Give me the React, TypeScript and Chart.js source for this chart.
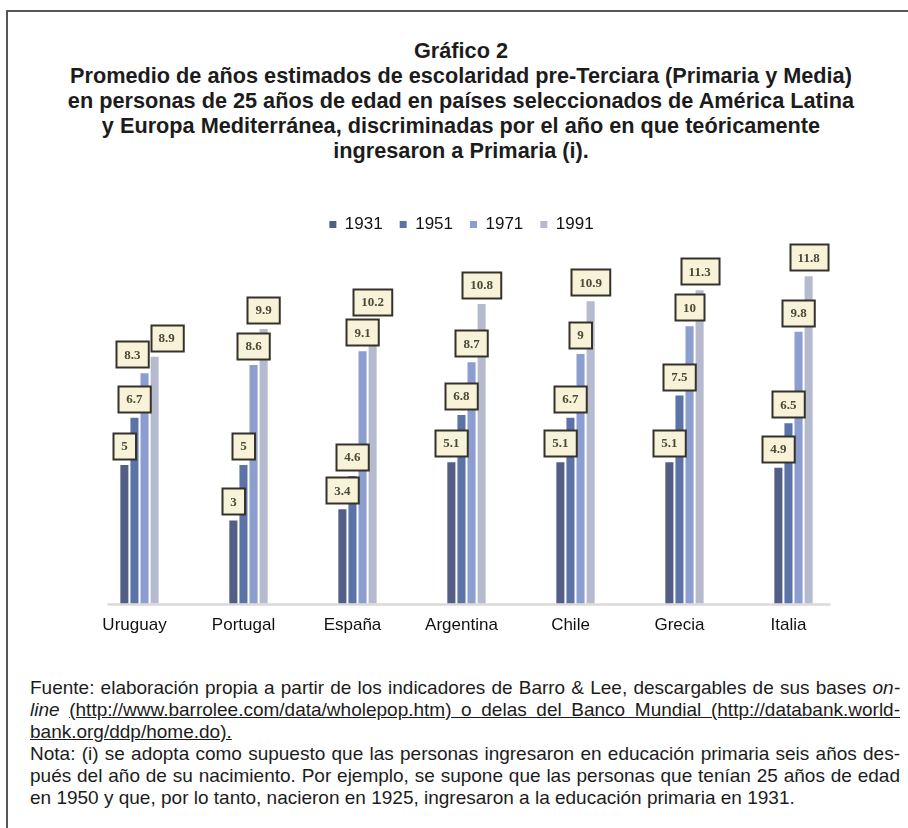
import React, { useEffect, useRef } from "react";
import { Chart, registerables } from "chart.js";

Chart.register(...registerables);

const countries = ["Uruguay", "Portugal", "España", "Argentina", "Chile", "Grecia", "Italia"];
const seriesNames = ["1931", "1951", "1971", "1991"];
const v1931 = [5, 3, 3.4, 5.1, 5.1, 5.1, 4.9];
const v1951 = [6.7, 5, 4.6, 6.8, 6.7, 7.5, 6.5];
const v1971 = [8.3, 8.6, 9.1, 8.7, 9, 10, 9.8];
const v1991 = [8.9, 9.9, 10.2, 10.8, 10.9, 11.3, 11.8];
const seriesColors = ["#525e86", "#5c73a8", "#8c9dcf", "#b6bace"];

const labelPlugin = {
  id: "valueBoxes",
  beforeDatasetsDraw(chart: any) {
    const { ctx } = chart;
    const xs = chart.scales.x;
    const ys = chart.scales.y;
    const y0 = ys.getPixelForValue(0);
    ctx.save();
    ctx.strokeStyle = "#dcd8d8";
    ctx.lineWidth = 2.5;
    ctx.beginPath();
    ctx.moveTo(xs.getPixelForValue(0) - 32, y0 + 1);
    ctx.lineTo(xs.getPixelForValue(countries.length - 1) + 37, y0 + 1);
    ctx.stroke();
    ctx.restore();
  },
  afterDatasetsDraw(chart: any) {
    const { ctx } = chart;
    ctx.save();
    ctx.font = "bold 13px 'Liberation Serif', 'DejaVu Serif', serif";
    const nDs = chart.data.datasets.length;
    for (let i = 0; i < countries.length; i++) {
      const boxes: any[] = [];
      for (let d = 0; d < nDs; d++) {
        const el = chart.getDatasetMeta(d).data[i];
        const val = chart.data.datasets[d].data[i];
        const txt = String(val);
        const w = ctx.measureText(txt).width + 16;
        const h = 26;
        const b = { cx: el.x, y: el.y - 6 - h, w, h, txt };
        for (const p of boxes) {
          const overlapY = b.y < p.y + p.h + 1 && p.y < b.y + b.h + 1;
          const overlapX = b.cx - b.w / 2 < p.cx + p.w / 2 + 2 && p.cx - p.w / 2 < b.cx + b.w / 2 + 2;
          if (overlapY && overlapX) {
            const need = (p.cx + p.w / 2 + 2) - (b.cx - b.w / 2);
            p.cx -= need / 2;
            b.cx += need / 2;
          }
        }
        boxes.push(b);
      }
      for (const b of boxes) {
        const x = Math.round(b.cx - b.w / 2) + 0.5;
        const y = Math.round(b.y) + 0.5;
        ctx.fillStyle = "#f8f3d8";
        ctx.fillRect(x, y, b.w, b.h);
        ctx.strokeStyle = "#34322a";
        ctx.lineWidth = 2;
        ctx.strokeRect(x, y, b.w, b.h);
        ctx.fillStyle = "#4a4838";
        ctx.textAlign = "center";
        ctx.textBaseline = "middle";
        ctx.fillText(b.txt, b.cx, b.y + b.h / 2 + 1);
      }
    }
    ctx.restore();
  },
};

function BarChart() {
  const ref = useRef<HTMLCanvasElement | null>(null);
  useEffect(() => {
    if (!ref.current) return;
    const values = [v1931, v1951, v1971, v1991];
    const chart = new Chart(ref.current, {
      type: "bar",
      data: {
        labels: countries,
        datasets: seriesNames.map((name, k) => ({
          label: name,
          data: values[k],
          backgroundColor: seriesColors[k],
          borderWidth: 0,
          barPercentage: 0.8,
          categoryPercentage: 0.37,
        })),
      },
      options: {
        animation: false,
        responsive: false,
        maintainAspectRatio: false,
        layout: { padding: 0 },
        plugins: {
          legend: {
            display: true,
            position: "top",
            labels: {
              boxWidth: 7,
              boxHeight: 7,
              padding: 17,
              color: "#111",
              font: { family: "'Liberation Sans', Arial, sans-serif", size: 17 },
            },
          },
          tooltip: { enabled: false },
          title: { display: false },
        },
        scales: {
          x: {
            grid: { display: false, drawTicks: false },
            border: { display: false },
            ticks: {
              color: "#111",
              padding: 12,
              labelOffset: -5,
              font: { family: "'Liberation Sans', Arial, sans-serif", size: 17 },
            },
          },
          y: {
            display: true,
            min: 0,
            max: 13,
            grid: { display: false, drawTicks: false },
            border: { display: false },
            ticks: { display: false },
            afterFit: (scale: any) => {
              scale.width = 10;
            },
          },
        },
      },
      plugins: [labelPlugin],
    });
    return () => chart.destroy();
  }, []);
  return (
    <canvas
      ref={ref}
      width={773}
      height={449}
      style={{ position: "absolute", left: 75, top: 199, width: 773, height: 449 }}
    />
  );
}

const titleLines = [
  "Gráfico 2",
  "Promedio de años estimados de escolaridad pre-Terciara (Primaria y Media)",
  "en personas de 25 años de edad en países seleccionados de América Latina",
  "y Europa Mediterránea, discriminadas por el año en que teóricamente",
  "ingresaron a Primaria (i).",
];

export default function App() {
  useEffect(() => {
    document.body.style.margin = "0";
  }, []);
  const sans = "'Liberation Sans', Arial, Helvetica, sans-serif";
  const lineStyle = (last: boolean): React.CSSProperties => ({
    height: 22,
    lineHeight: "22px",
    whiteSpace: "nowrap",
    textAlign: "justify",
    textAlignLast: last ? "left" : "justify",
  } as React.CSSProperties);
  return (
    <div style={{ position: "relative", width: 908, height: 828, background: "#fff", overflow: "hidden", fontFamily: sans, color: "#1c1c1c" }}>
      <div style={{ position: "absolute", left: 6, top: 10, width: 930, height: 900, borderTop: "2px solid #555", borderLeft: "2px solid #555" }} />
      <div style={{ position: "absolute", left: 8, width: 906, top: 37.5, textAlign: "center", fontWeight: "bold", fontSize: 21.7, lineHeight: "25px" }}>
        {titleLines.map((t) => (
          <div key={t}>{t}</div>
        ))}
      </div>
      <BarChart />
      <div style={{ position: "absolute", left: 30, top: 677, width: 870, fontSize: 19 }}>
        <div style={lineStyle(false)}>
          Fuente: elaboración propia a partir de los indicadores de Barro &amp; Lee, descargables de sus bases <i>on-</i>
        </div>
        <div style={lineStyle(false)}>
          <i>line</i> <span style={{ textDecoration: "underline" }}>(http://www.barrolee.com/data/wholepop.htm) o delas del Banco Mundial (http://databank.world-</span>
        </div>
        <div style={lineStyle(true)}>
          <span style={{ textDecoration: "underline" }}>bank.org/ddp/home.do).</span>
        </div>
        <div style={lineStyle(false)}>
          Nota: (i) se adopta como supuesto que las personas ingresaron en educación primaria seis años des-
        </div>
        <div style={lineStyle(false)}>
          pués del año de su nacimiento. Por ejemplo, se supone que las personas que tenían 25 años de edad
        </div>
        <div style={lineStyle(true)}>
          en 1950 y que, por lo tanto, nacieron en 1925, ingresaron a la educación primaria en 1931.
        </div>
      </div>
    </div>
  );
}
